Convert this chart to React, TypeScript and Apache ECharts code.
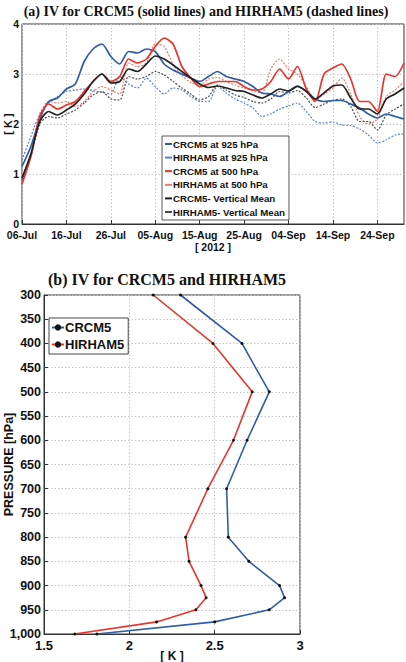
import React, { useEffect, useRef } from "react";
import * as echarts from "echarts";

// ---------- Panel (a): time series (every 2 days, 06-Jul .. 30-Sep 2012) ----------
const dates = [
  "06-Jul", "08-Jul", "10-Jul", "12-Jul", "14-Jul", "16-Jul", "18-Jul", "20-Jul", "22-Jul", "24-Jul", "26-Jul", "28-Jul", "30-Jul",
  "01-Aug", "03-Aug", "05-Aug", "07-Aug", "09-Aug", "11-Aug", "13-Aug", "15-Aug", "17-Aug", "19-Aug", "21-Aug", "23-Aug", "25-Aug", "27-Aug", "29-Aug", "31-Aug",
  "02-Sep", "04-Sep", "06-Sep", "08-Sep", "10-Sep", "12-Sep", "14-Sep", "16-Sep", "18-Sep", "20-Sep", "22-Sep", "24-Sep", "26-Sep", "28-Sep", "30-Sep",
];

const crcm5_925 = [
  1.15, 1.55, 2.1, 2.45, 2.52, 2.7, 2.8, 3.25, 3.5, 3.6,
  3.35, 3.2, 3.45, 3.42, 3.5, 3.45, 3.2, 3.08, 3.0, 2.92,
  2.85, 2.95, 3.05, 2.95, 2.9, 2.85, 2.75, 2.62, 2.6, 2.55,
  2.65, 2.76, 2.66, 2.5, 2.45, 2.47, 2.47, 2.4, 2.32, 2.2,
  2.12, 2.2, 2.15, 2.1,
];
const hirham5_925 = [
  1.28, 1.75, 2.2, 2.42, 2.55, 2.65, 2.68, 2.7, 2.67, 2.63,
  2.6, 2.95, 2.8, 2.72, 2.92, 2.75, 2.6, 2.72, 2.68, 2.55,
  2.45, 2.45, 2.75, 2.62, 2.5, 2.42, 2.32, 2.15, 2.2, 2.3,
  2.36, 2.42, 2.25, 2.05, 2.02, 2.04, 1.98, 1.97, 1.9, 1.78,
  1.62, 1.68, 1.78, 1.8,
];
const crcm5_500 = [
  0.8, 1.35, 2.15, 2.4, 2.3, 2.38, 2.45, 2.65, 2.85, 3.0,
  2.85, 2.95, 3.3, 3.22, 3.3, 3.55, 3.72, 3.6, 3.15, 2.92,
  2.75, 2.8, 2.85, 2.85, 2.85, 2.75, 2.68, 2.7, 2.85, 3.1,
  2.9, 3.15, 2.7, 2.45, 3.0, 3.12, 3.2, 2.9, 2.45, 2.45,
  2.25, 3.0, 2.95, 3.22,
];
const hirham5_500 = [
  0.85, 1.4, 2.2, 2.45, 2.42, 2.45, 2.35, 2.45, 2.65, 2.75,
  2.68, 2.6, 3.22, 3.15, 3.22, 3.6, 3.55, 3.2, 2.97, 2.83,
  2.78, 2.9, 2.93, 2.85, 2.78, 2.72, 2.66, 2.62, 3.1, 3.3,
  3.1, 3.0, 2.75, 2.48, 2.6, 2.72, 2.92, 2.6, 2.15, 2.0,
  2.1, 2.55, 2.68, 2.85,
];
const crcm5_mean = [
  0.92, 1.4, 2.05, 2.25, 2.18, 2.28, 2.4, 2.6, 2.85, 3.0,
  2.82, 2.85, 3.1, 3.05, 3.2, 3.36, 3.3, 3.18, 3.05, 2.92,
  2.8, 2.73, 2.76, 2.72, 2.67, 2.65, 2.58, 2.52, 2.6, 2.7,
  2.66, 2.75, 2.65, 2.5, 2.62, 2.76, 2.78, 2.52, 2.3, 2.3,
  2.2, 2.5, 2.6, 2.72,
];
const hirham5_mean = [
  0.88, 1.35, 2.0, 2.15, 2.12, 2.2, 2.28, 2.42, 2.58, 2.65,
  2.5, 2.48, 2.95, 2.9, 2.95, 3.05, 2.98, 2.85, 2.72, 2.6,
  2.48, 2.55, 2.78, 2.68, 2.58, 2.53, 2.45, 2.42, 2.5, 2.65,
  2.62, 2.67, 2.52, 2.33, 2.4, 2.47, 2.5, 2.35, 2.05, 2.05,
  1.88, 2.18, 2.3, 2.4,
];

// ---------- Panel (b): vertical profile ----------
const levels = [300, 400, 500, 600, 700, 800, 850, 900, 925, 950, 975, 1000];
const crcm5_iv = [2.3, 2.66, 2.82, 2.69, 2.57, 2.58, 2.7, 2.88, 2.91, 2.82, 2.5, 1.81];
const hirham5_iv = [2.14, 2.49, 2.72, 2.61, 2.46, 2.33, 2.35, 2.42, 2.45, 2.39, 2.16, 1.68];

const SANS = "Liberation Sans, Arial, sans-serif";
const SERIF = "Liberation Serif, Times New Roman, serif";
const AXIS = "#333";
const GRID = "#c4c4c4";

const C_BLUE = "#2d5da8";
const C_BLUE_D = "#5a84c6";
const C_RED = "#e8352b";
const C_RED_D = "#f07a6c";
const C_BLACK = "#222222";
const C_BLACK_D = "#4a4a4a";

function topLine(name: string, data: number[], color: string, dashed: boolean) {
  return {
    name,
    type: "line",
    xAxisIndex: 0,
    yAxisIndex: 0,
    data,
    symbol: "none",
    showSymbol: false,
    smooth: 0.25,
    lineStyle: dashed
      ? { color, width: 1.2, type: [2, 1.5] }
      : { color, width: 1.7, type: "solid" },
    itemStyle: { color },
    z: dashed ? 3 : 4,
  };
}

function profLine(name: string, vals: number[], color: string) {
  return {
    name,
    type: "line",
    xAxisIndex: 1,
    yAxisIndex: 1,
    data: levels.map((p, i) => [vals[i], p]),
    symbol: "circle",
    symbolSize: 3,
    showSymbol: true,
    lineStyle: { color, width: 1.6 },
    itemStyle: { color: "#111" },
    z: 4,
  };
}

const labelStyle = (size: number) => ({
  color: "#111",
  fontFamily: SANS,
  fontWeight: "bold" as const,
  fontSize: size,
});

export default function App() {
  const ref = useRef<HTMLDivElement>(null);
  useEffect(() => {
    if (!ref.current) return;
    const chart = echarts.init(ref.current, null, { renderer: "svg" });
    const option: any = {
      animation: false,
      backgroundColor: "#fff",
      title: [
        {
          text: "(a) IV for CRCM5 (solid lines) and HIRHAM5 (dashed lines)",
          left: 206,
          top: 4,
          textAlign: "center",
          padding: 0,
          textStyle: { fontFamily: SERIF, fontWeight: "bold", fontSize: 14, color: "#111" },
        },
        {
          text: "(b) IV for CRCM5 and HIRHAM5",
          left: 167,
          top: 271,
          textAlign: "center",
          padding: 0,
          textStyle: { fontFamily: SERIF, fontWeight: "bold", fontSize: 16, color: "#111" },
        },
      ],
      grid: [
        {
          left: 22, top: 24, width: 382, height: 200,
          show: true, borderColor: AXIS, borderWidth: 1, backgroundColor: "transparent",
          containLabel: false, outerBoundsMode: "none",
        },
        {
          left: 44, top: 295, width: 256, height: 339,
          show: true, borderColor: AXIS, borderWidth: 1, backgroundColor: "transparent",
          containLabel: false, outerBoundsMode: "none",
        },
      ],
      legend: [
        {
          data: [
            { name: "CRCM5 at 925 hPa", icon: "rect" },
            { name: "HIRHAM5 at 925 hPa", icon: "rect" },
            { name: "CRCM5 at 500 hPa", icon: "rect" },
            { name: "HIRHAM5 at 500 hPa", icon: "rect" },
            { name: "CRCM5- Vertical Mean", icon: "rect" },
            { name: "HIRHAM5- Vertical Mean", icon: "rect" },
          ],
          orient: "vertical",
          left: 162,
          top: 136,
          itemWidth: 7,
          itemHeight: 2,
          itemGap: 1.6,
          padding: [2, 4, 2, 3],
          borderColor: "#555",
          borderWidth: 1,
          borderRadius: 0,
          backgroundColor: "#fff",
          textStyle: { ...labelStyle(9.7), padding: [0, 0, 0, -4], lineHeight: 12 },
          z: 10,
        },
        {
          data: ["CRCM5", "HIRHAM5"],
          orient: "vertical",
          left: 49,
          top: 318,
          itemWidth: 12,
          itemHeight: 8,
          itemGap: 4,
          padding: [3, 4, 3, 2],
          borderColor: "#444",
          borderWidth: 1,
          borderRadius: 0,
          backgroundColor: "#fff",
          textStyle: { ...labelStyle(13), padding: [0, 0, 0, -4] },
          z: 10,
        },
      ],
      xAxis: [
        {
          type: "category",
          gridIndex: 0,
          data: dates,
          boundaryGap: false,
          axisLine: { lineStyle: { color: AXIS } },
          axisTick: { inside: true, interval: 4, length: 4, lineStyle: { color: AXIS } },
          axisLabel: { ...labelStyle(10.5), interval: 4, margin: 5 },
          splitLine: { show: true, interval: 4, lineStyle: { color: GRID, type: [1.5, 2] } },
          name: "[ 2012 ]",
          nameLocation: "middle",
          nameGap: 17,
          nameMoveOverlap: false,
          nameTextStyle: labelStyle(10.5),
        },
        {
          type: "value",
          gridIndex: 1,
          min: 1.5,
          max: 3,
          interval: 0.5,
          axisLine: { onZero: false, lineStyle: { color: AXIS } },
          axisTick: { inside: true, length: 4, lineStyle: { color: AXIS } },
          axisLabel: { ...labelStyle(13), margin: 5 },
          splitLine: { show: true, lineStyle: { color: GRID, type: [1.5, 2] } },
          name: "[ K ]",
          nameLocation: "middle",
          nameGap: 16,
          nameMoveOverlap: false,
          nameTextStyle: labelStyle(12),
        },
      ],
      yAxis: [
        {
          type: "value",
          gridIndex: 0,
          min: 0,
          max: 4,
          interval: 1,
          axisLine: { lineStyle: { color: AXIS } },
          axisTick: { inside: true, length: 4, lineStyle: { color: AXIS } },
          axisLabel: { ...labelStyle(10.5), margin: 3 },
          splitLine: { show: true, lineStyle: { color: GRID, type: [1.5, 2] } },
          name: "[ K ]",
          nameLocation: "middle",
          nameRotate: 90,
          nameGap: 9,
          nameMoveOverlap: false,
          nameTextStyle: labelStyle(11),
        },
        {
          type: "value",
          gridIndex: 1,
          inverse: true,
          min: 300,
          max: 1000,
          interval: 50,
          axisLine: { onZero: false, lineStyle: { color: AXIS } },
          axisTick: { inside: true, length: 4, lineStyle: { color: AXIS } },
          axisLabel: { ...labelStyle(12.5), margin: 3 },
          splitLine: { show: true, lineStyle: { color: GRID, type: [1.5, 2] } },
          name: "PRESSURE [hPa]",
          nameLocation: "middle",
          nameRotate: 90,
          nameGap: 29,
          nameMoveOverlap: false,
          nameTextStyle: labelStyle(12.5),
        },
      ],
      series: [
        topLine("CRCM5 at 925 hPa", crcm5_925, C_BLUE, false),
        topLine("HIRHAM5 at 925 hPa", hirham5_925, C_BLUE_D, true),
        topLine("CRCM5 at 500 hPa", crcm5_500, C_RED, false),
        topLine("HIRHAM5 at 500 hPa", hirham5_500, C_RED_D, true),
        topLine("CRCM5- Vertical Mean", crcm5_mean, C_BLACK, false),
        topLine("HIRHAM5- Vertical Mean", hirham5_mean, C_BLACK_D, true),
        profLine("CRCM5", crcm5_iv, C_BLUE),
        profLine("HIRHAM5", hirham5_iv, C_RED),
      ],
    };
    chart.setOption(option);
    return () => chart.dispose();
  }, []);
  return (
    <div
      ref={ref}
      style={{ position: "absolute", left: 0, top: 0, width: 406, height: 662, background: "#fff" }}
    />
  );
}
